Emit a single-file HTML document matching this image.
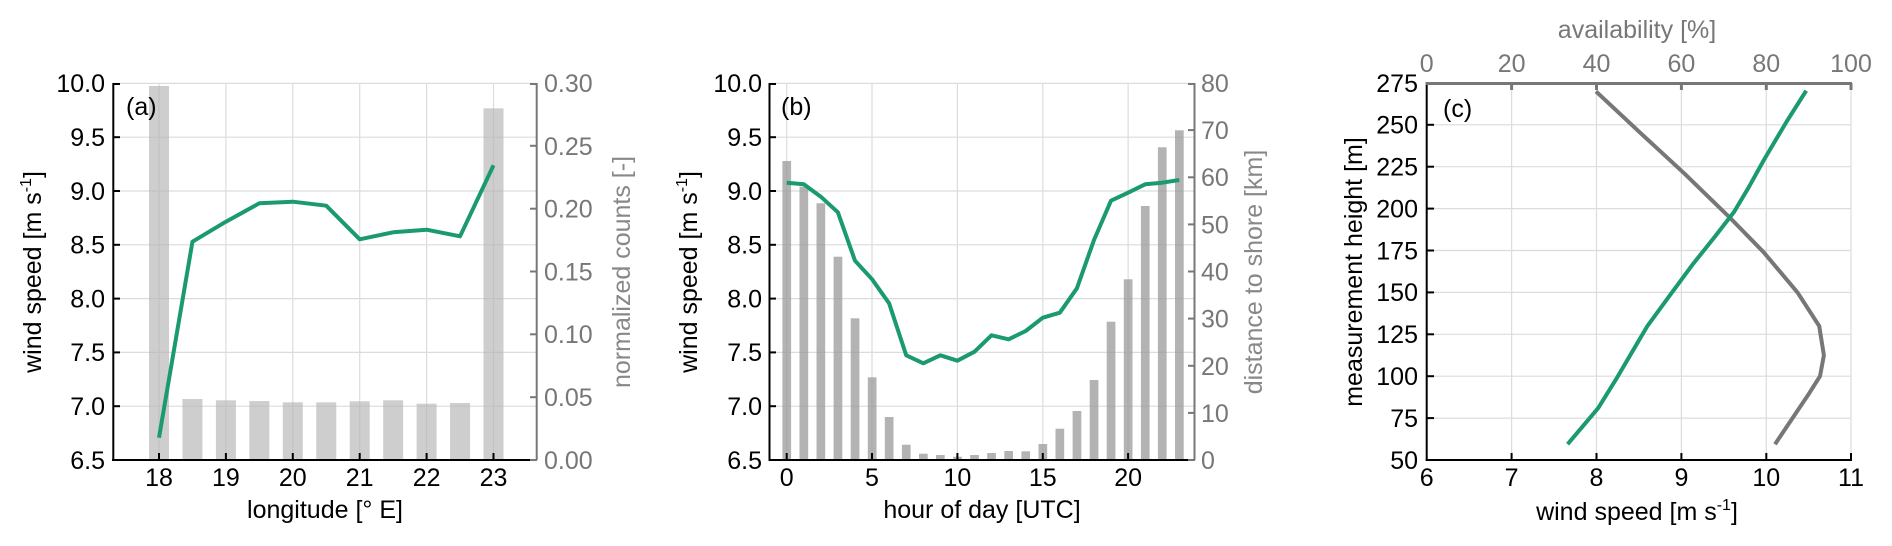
<!DOCTYPE html>
<html><head><meta charset="utf-8"><style>
html,body{margin:0;padding:0;background:#fff;}
svg{display:block;font-family:"Liberation Sans",Arial,sans-serif;}
</style></head><body>
<svg width="1892" height="546" viewBox="0 0 1892 546" xmlns="http://www.w3.org/2000/svg">
<!-- ========== PANEL A ========== -->
<g stroke="#dcdcdc" stroke-width="1.2">
<line x1="159" y1="83" x2="159" y2="460"/><line x1="225.9" y1="83" x2="225.9" y2="460"/><line x1="292.8" y1="83" x2="292.8" y2="460"/><line x1="359.7" y1="83" x2="359.7" y2="460"/><line x1="426.6" y1="83" x2="426.6" y2="460"/><line x1="493.5" y1="83" x2="493.5" y2="460"/>
<line x1="113" y1="406.2" x2="537" y2="406.2"/><line x1="113" y1="352.4" x2="537" y2="352.4"/><line x1="113" y1="298.6" x2="537" y2="298.6"/><line x1="113" y1="244.8" x2="537" y2="244.8"/><line x1="113" y1="191" x2="537" y2="191"/><line x1="113" y1="137.2" x2="537" y2="137.2"/><line x1="113" y1="83.4" x2="537" y2="83.4"/>
</g>
<g fill="#b4b4b4" fill-opacity="0.65">
<rect x="149" y="86" width="20" height="374"/>
<rect x="182.45" y="399" width="20" height="61"/>
<rect x="215.9" y="400.3" width="20" height="59.7"/>
<rect x="249.35" y="401" width="20" height="59"/>
<rect x="282.8" y="402.3" width="20" height="57.7"/>
<rect x="316.25" y="402.3" width="20" height="57.7"/>
<rect x="349.7" y="401.3" width="20" height="58.7"/>
<rect x="383.15" y="400.3" width="20" height="59.7"/>
<rect x="416.6" y="403.7" width="20" height="56.3"/>
<rect x="450.05" y="403" width="20" height="57"/>
<rect x="483.5" y="108.3" width="20" height="351.7"/>
</g>
<polyline fill="none" stroke="#1a9a6e" stroke-width="4" stroke-linejoin="round" points="159,437.7 192.45,241.7 225.9,221.7 259.35,203.3 292.8,201.7 326.25,205.7 359.7,239.3 393.15,232.3 426.6,229.7 460.05,236.3 493.5,165.3"/>
<!-- axes a -->
<g stroke="#000" stroke-width="2">
<line x1="113.3" y1="83" x2="113.3" y2="461"/><line x1="112" y1="460" x2="537" y2="460"/>
<line x1="113" y1="406.2" x2="120" y2="406.2"/><line x1="113" y1="352.4" x2="120" y2="352.4"/><line x1="113" y1="298.6" x2="120" y2="298.6"/><line x1="113" y1="244.8" x2="120" y2="244.8"/><line x1="113" y1="191" x2="120" y2="191"/><line x1="113" y1="137.2" x2="120" y2="137.2"/><line x1="113" y1="84" x2="120" y2="84"/>
<line x1="159" y1="460" x2="159" y2="453"/><line x1="225.9" y1="460" x2="225.9" y2="453"/><line x1="292.8" y1="460" x2="292.8" y2="453"/><line x1="359.7" y1="460" x2="359.7" y2="453"/><line x1="426.6" y1="460" x2="426.6" y2="453"/><line x1="493.5" y1="460" x2="493.5" y2="453"/>
</g>
<g stroke="#777" stroke-width="2">
<line x1="536.7" y1="83" x2="536.7" y2="460"/>
<line x1="530" y1="460" x2="537" y2="460"/><line x1="530" y1="397.2" x2="537" y2="397.2"/><line x1="530" y1="334.3" x2="537" y2="334.3"/><line x1="530" y1="271.5" x2="537" y2="271.5"/><line x1="530" y1="208.7" x2="537" y2="208.7"/><line x1="530" y1="145.8" x2="537" y2="145.8"/><line x1="530" y1="84" x2="537" y2="84"/>
</g>
<g font-size="25" fill="#000" text-anchor="end">
<text x="105" y="469">6.5</text><text x="105" y="415">7.0</text><text x="105" y="361">7.5</text><text x="105" y="307.5">8.0</text><text x="105" y="253.5">8.5</text><text x="105" y="200">9.0</text><text x="105" y="146">9.5</text><text x="105" y="92">10.0</text>
</g>
<g font-size="25" fill="#000" text-anchor="middle">
<text x="159" y="486">18</text><text x="225.9" y="486">19</text><text x="292.8" y="486">20</text><text x="359.7" y="486">21</text><text x="426.6" y="486">22</text><text x="493.5" y="486">23</text>
<text x="325" y="518">longitude [° E]</text>
</g>
<g font-size="25" fill="#777">
<text x="544" y="469">0.00</text><text x="544" y="406">0.05</text><text x="544" y="343">0.10</text><text x="544" y="280.5">0.15</text><text x="544" y="217.5">0.20</text><text x="544" y="155">0.25</text><text x="544" y="92">0.30</text>
</g>
<text x="126" y="115" font-size="25" fill="#000">(a)</text>
<text transform="translate(41,272) rotate(-90)" font-size="25" text-anchor="middle" fill="#000">wind speed [m s<tspan font-size="16" dy="-10">-1</tspan><tspan dy="10">]</tspan></text>
<text transform="translate(630,272) rotate(-90)" font-size="25" text-anchor="middle" fill="#888">normalized counts [-]</text>

<!-- ========== PANEL B ========== -->
<g stroke="#dcdcdc" stroke-width="1.2">
<line x1="786.7" y1="83" x2="786.7" y2="460"/><line x1="872" y1="83" x2="872" y2="460"/><line x1="957.4" y1="83" x2="957.4" y2="460"/><line x1="1042.8" y1="83" x2="1042.8" y2="460"/><line x1="1128.1" y1="83" x2="1128.1" y2="460"/>
<line x1="770" y1="406.2" x2="1194" y2="406.2"/><line x1="770" y1="352.4" x2="1194" y2="352.4"/><line x1="770" y1="298.6" x2="1194" y2="298.6"/><line x1="770" y1="244.8" x2="1194" y2="244.8"/><line x1="770" y1="191" x2="1194" y2="191"/><line x1="770" y1="137.2" x2="1194" y2="137.2"/><line x1="770" y1="83.4" x2="1194" y2="83.4"/>
</g>
<g fill="#999" fill-opacity="0.75">
<rect x="782.4" y="161" width="8.7" height="299"/>
<rect x="799.5" y="186.7" width="8.7" height="273.3"/>
<rect x="816.5" y="203.3" width="8.7" height="256.7"/>
<rect x="833.6" y="256.7" width="8.7" height="203.3"/>
<rect x="850.7" y="318.3" width="8.7" height="141.7"/>
<rect x="867.8" y="377.3" width="8.7" height="82.7"/>
<rect x="884.8" y="417" width="8.7" height="43"/>
<rect x="901.9" y="444.7" width="8.7" height="15.3"/>
<rect x="919" y="453.7" width="8.7" height="6.3"/>
<rect x="936" y="455" width="8.7" height="5"/>
<rect x="953.1" y="456.7" width="8.7" height="3.3"/>
<rect x="970.2" y="455" width="8.7" height="5"/>
<rect x="987.2" y="453" width="8.7" height="7"/>
<rect x="1004.3" y="451" width="8.7" height="9"/>
<rect x="1021.4" y="451.3" width="8.7" height="8.7"/>
<rect x="1038.5" y="444" width="8.7" height="16"/>
<rect x="1055.5" y="428.7" width="8.7" height="31.3"/>
<rect x="1072.6" y="411" width="8.7" height="49"/>
<rect x="1089.7" y="380" width="8.7" height="80"/>
<rect x="1106.7" y="321.7" width="8.7" height="138.3"/>
<rect x="1123.8" y="279.3" width="8.7" height="180.7"/>
<rect x="1140.9" y="206" width="8.7" height="254"/>
<rect x="1157.9" y="147.3" width="8.7" height="312.7"/>
<rect x="1175" y="130.3" width="8.7" height="329.7"/>
</g>
<polyline fill="none" stroke="#1a9a6e" stroke-width="4" stroke-linejoin="round" points="786.7,182.7 803.8,184.3 820.8,196.7 837.9,212.3 855,260.7 872.1,279.3 889.1,303.3 906.2,355.3 923.3,363.3 940.3,355.3 957.4,360.7 974.5,351.7 991.5,335.3 1008.6,339.3 1025.7,331 1042.8,317.7 1059.8,312.7 1076.9,288.3 1094,240 1111,200.7 1128.1,192.7 1145.2,184.3 1162.2,182.7 1179.3,180"/>
<g stroke="#000" stroke-width="2">
<line x1="769.5" y1="83" x2="769.5" y2="461"/><line x1="768.5" y1="460" x2="1194" y2="460"/>
<line x1="769" y1="406.2" x2="776" y2="406.2"/><line x1="769" y1="352.4" x2="776" y2="352.4"/><line x1="769" y1="298.6" x2="776" y2="298.6"/><line x1="769" y1="244.8" x2="776" y2="244.8"/><line x1="769" y1="191" x2="776" y2="191"/><line x1="769" y1="137.2" x2="776" y2="137.2"/><line x1="769" y1="84" x2="776" y2="84"/>
<line x1="786.7" y1="460" x2="786.7" y2="453"/><line x1="872" y1="460" x2="872" y2="453"/><line x1="957.4" y1="460" x2="957.4" y2="453"/><line x1="1042.8" y1="460" x2="1042.8" y2="453"/><line x1="1128.1" y1="460" x2="1128.1" y2="453"/>
</g>
<g stroke="#777" stroke-width="2">
<line x1="1194.5" y1="83" x2="1194.5" y2="460"/>
<line x1="1188" y1="460" x2="1195" y2="460"/><line x1="1188" y1="412.9" x2="1195" y2="412.9"/><line x1="1188" y1="365.8" x2="1195" y2="365.8"/><line x1="1188" y1="318.6" x2="1195" y2="318.6"/><line x1="1188" y1="271.5" x2="1195" y2="271.5"/><line x1="1188" y1="224.4" x2="1195" y2="224.4"/><line x1="1188" y1="177.3" x2="1195" y2="177.3"/><line x1="1188" y1="130.1" x2="1195" y2="130.1"/><line x1="1188" y1="84" x2="1195" y2="84"/>
</g>
<g font-size="25" fill="#000" text-anchor="end">
<text x="762" y="469">6.5</text><text x="762" y="415">7.0</text><text x="762" y="361">7.5</text><text x="762" y="307.5">8.0</text><text x="762" y="253.5">8.5</text><text x="762" y="200">9.0</text><text x="762" y="146">9.5</text><text x="762" y="92">10.0</text>
</g>
<g font-size="25" fill="#000" text-anchor="middle">
<text x="786.7" y="486">0</text><text x="872" y="486">5</text><text x="957.4" y="486">10</text><text x="1042.8" y="486">15</text><text x="1128.1" y="486">20</text>
<text x="982" y="518">hour of day [UTC]</text>
</g>
<g font-size="25" fill="#777">
<text x="1201" y="469">0</text><text x="1201" y="422">10</text><text x="1201" y="375">20</text><text x="1201" y="327.5">30</text><text x="1201" y="280.5">40</text><text x="1201" y="233.5">50</text><text x="1201" y="186">60</text><text x="1201" y="139">70</text><text x="1201" y="92">80</text>
</g>
<text x="781" y="115" font-size="25" fill="#000">(b)</text>
<text transform="translate(697,272) rotate(-90)" font-size="25" text-anchor="middle" fill="#000">wind speed [m s<tspan font-size="16" dy="-10">-1</tspan><tspan dy="10">]</tspan></text>
<text transform="translate(1262,272) rotate(-90)" font-size="25" text-anchor="middle" fill="#888">distance to shore [km]</text>

<!-- ========== PANEL C ========== -->
<g stroke="#dcdcdc" stroke-width="1.2">
<line x1="1511.6" y1="83" x2="1511.6" y2="460"/><line x1="1596.5" y1="83" x2="1596.5" y2="460"/><line x1="1681.4" y1="83" x2="1681.4" y2="460"/><line x1="1766.3" y1="83" x2="1766.3" y2="460"/><line x1="1851" y1="83" x2="1851" y2="460"/>
<line x1="1427" y1="418.1" x2="1851" y2="418.1"/><line x1="1427" y1="376.2" x2="1851" y2="376.2"/><line x1="1427" y1="334.3" x2="1851" y2="334.3"/><line x1="1427" y1="292.4" x2="1851" y2="292.4"/><line x1="1427" y1="250.5" x2="1851" y2="250.5"/><line x1="1427" y1="208.6" x2="1851" y2="208.6"/><line x1="1427" y1="166.7" x2="1851" y2="166.7"/><line x1="1427" y1="124.8" x2="1851" y2="124.8"/>
</g>
<polyline fill="none" stroke="#777" stroke-width="4" stroke-linejoin="round" points="1596,91.4 1639.3,131.9 1684.7,173.8 1729.6,217.4 1763.6,252.2 1797.5,292.4 1819.2,326 1823.9,355.3 1820,376.2 1809,393.6 1775,444.2"/>
<polyline fill="none" stroke="#1a9a6e" stroke-width="4" stroke-linejoin="round" points="1806.2,90.7 1786.7,121.5 1763.8,160.1 1748.5,187.7 1734,212 1714.5,237.1 1692.4,264.8 1669.5,295.8 1647.4,326 1632.2,351.8 1616.9,377.9 1598.2,408.1 1567.6,444.2"/>
<g stroke="#000" stroke-width="2">
<line x1="1426.7" y1="83" x2="1426.7" y2="461"/><line x1="1425.7" y1="460" x2="1852" y2="460"/>
<line x1="1427" y1="418.1" x2="1434" y2="418.1"/><line x1="1427" y1="376.2" x2="1434" y2="376.2"/><line x1="1427" y1="334.3" x2="1434" y2="334.3"/><line x1="1427" y1="292.4" x2="1434" y2="292.4"/><line x1="1427" y1="250.5" x2="1434" y2="250.5"/><line x1="1427" y1="208.6" x2="1434" y2="208.6"/><line x1="1427" y1="166.7" x2="1434" y2="166.7"/><line x1="1427" y1="124.8" x2="1434" y2="124.8"/>
<line x1="1511.6" y1="460" x2="1511.6" y2="453"/><line x1="1596.5" y1="460" x2="1596.5" y2="453"/><line x1="1681.4" y1="460" x2="1681.4" y2="453"/><line x1="1766.3" y1="460" x2="1766.3" y2="453"/><line x1="1851" y1="460" x2="1851" y2="453"/>
</g>
<g stroke="#777" stroke-width="3">
<line x1="1425.5" y1="83.5" x2="1852" y2="83.5"/>
<line x1="1511.6" y1="83" x2="1511.6" y2="90"/><line x1="1596.5" y1="83" x2="1596.5" y2="90"/><line x1="1681.4" y1="83" x2="1681.4" y2="90"/><line x1="1766.3" y1="83" x2="1766.3" y2="90"/><line x1="1851" y1="83" x2="1851" y2="90"/>
</g>
<g font-size="25" fill="#000" text-anchor="end">
<text x="1418" y="469">50</text><text x="1418" y="427">75</text><text x="1418" y="385">100</text><text x="1418" y="343">125</text><text x="1418" y="301">150</text><text x="1418" y="259.5">175</text><text x="1418" y="217.5">200</text><text x="1418" y="175.5">225</text><text x="1418" y="133.5">250</text><text x="1418" y="92">275</text>
</g>
<g font-size="25" fill="#000" text-anchor="middle">
<text x="1426.7" y="486">6</text><text x="1511.6" y="486">7</text><text x="1596.5" y="486">8</text><text x="1681.4" y="486">9</text><text x="1766.3" y="486">10</text><text x="1851" y="486">11</text>
<text x="1637" y="520">wind speed [m s<tspan font-size="16" dy="-10">-1</tspan><tspan dy="10">]</tspan></text>
</g>
<g font-size="25" fill="#777" text-anchor="middle">
<text x="1426.7" y="72">0</text><text x="1511.6" y="72">20</text><text x="1596.5" y="72">40</text><text x="1681.4" y="72">60</text><text x="1766.3" y="72">80</text><text x="1851" y="72">100</text>
<text x="1637" y="38">availability [%]</text>
</g>
<text x="1443" y="117" font-size="25" fill="#000">(c)</text>
<text transform="translate(1362,272) rotate(-90)" font-size="25" text-anchor="middle" fill="#000">measurement height [m]</text>
</svg>
</body></html>
